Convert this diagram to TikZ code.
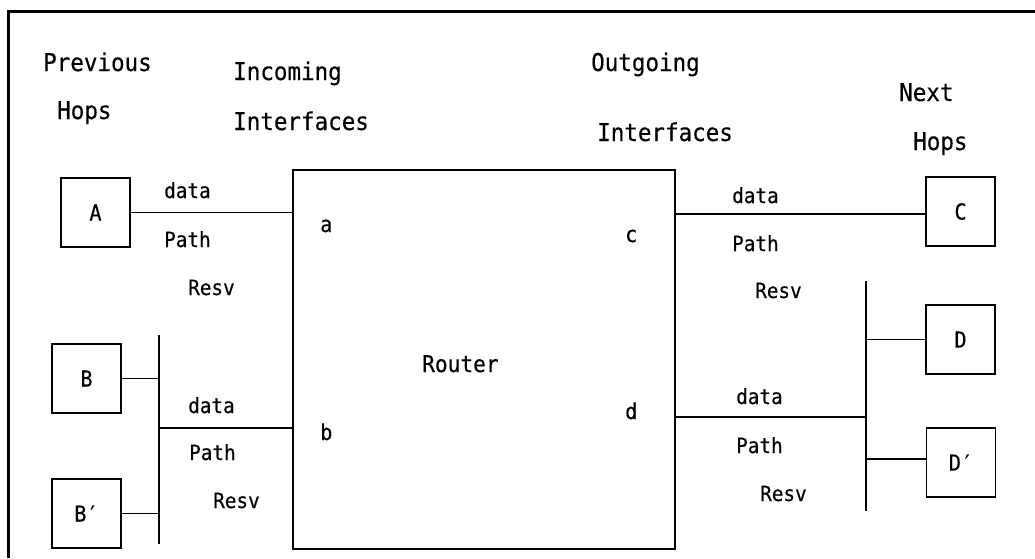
\documentclass[tikz,border=0pt]{standalone}
\usepackage{fontspec}
\setmainfont{DejaVu Sans Mono}[FakeBold=0.35,FakeStretch=0.92]
\begin{document}
\begin{tikzpicture}[x=1pt,y=-1pt,
  hdr/.style={anchor=base west,inner sep=0,font=\fontsize{24.5}{26}\selectfont},
  lbl/.style={anchor=base west,inner sep=0,font=\fontsize{21}{24}\selectfont},
  hop/.style={draw,line width=1.6pt,minimum width=69pt,minimum height=69pt,inner sep=0,font=\fontsize{22}{24}\selectfont},
  wire/.style={line width=1.6pt}]
\useasboundingbox (0,0) rectangle (1035,558);
\draw[line width=3pt] (8,558) -- (8,11) -- (1035,11);
% headers
\node[hdr] (h1) at (43,71) {Previous};
\node[hdr] (h2) at (57,119) {Hops};
\node[hdr] (h3) at (233,80) {Incoming};
\node[hdr] (h4) at (233,130) {Interfaces};
\node[hdr] (h5) at (591,71) {Outgoing};
\node[hdr] (h6) at (597,141) {Interfaces};
\node[hdr] (h7) at (899,101) {Next};
\node[hdr] (h8) at (913,150) {Hops};
% router
\node[draw,line width=1.6pt,minimum width=382pt,minimum height=379pt,inner sep=0] (R) at (484,359.5) {};
\node[lbl,font=\fontsize{23}{24}\selectfont] (rt) at (422,372) {Router};
\node[lbl,font=\fontsize{22}{24}\selectfont] (ia) at (320,232) {a};
\node[lbl,font=\fontsize{22}{24}\selectfont] (ib) at (320,440) {b};
\node[lbl,font=\fontsize{22}{24}\selectfont] (ic) at (625,242) {c};
\node[lbl,font=\fontsize{22}{24}\selectfont] (id) at (625,419) {d};
% hops
\node[hop] (A) at (95.5,212.5) {A};
\node[hop] (B) at (86.5,378.5) {B};
\node[hop] (Bp) at (86.5,513.5) {B′};
\node[hop] (C) at (960.5,211.5) {C};
\node[hop] (D) at (960.5,339.5) {D};
\node[hop] (Dp) at (961,462.5) {D′};
% buses
\coordinate (bl1) at (159,335);
\coordinate (bl2) at (159,544);
\coordinate (bj) at (159,428);
\coordinate (br1) at (866,281);
\coordinate (br2) at (866,511);
\coordinate (rj) at (866,417);
\draw[wire] (bl1) -- (bl2);
\draw[wire] (br1) -- (br2);
\draw[wire] (A.east) -- (A.east -| R.west);
\draw[wire] (B.east) -- (B.east -| bl1);
\draw[wire] (Bp.east) -- (Bp.east -| bl1);
\draw[wire] (bj) -- (bj -| R.west);
\draw[wire] ([yshift=-2.5pt]C.west) -- ([yshift=-2.5pt]C.west -| R.east);
\draw[wire] (D.west) -- (D.west -| br1);
\draw[wire] ([yshift=3.5pt]Dp.west) -- ([yshift=3.5pt]Dp.west -| br1);
\draw[wire] (rj) -- (rj -| R.east);
% message labels
\node[lbl] (d1) at (164,198) {data};
\node[lbl] (p1) at (164,247) {Path};
\node[lbl] (r1) at (188,295) {Resv};
\node[lbl] (d2) at (188,413) {data};
\node[lbl] (p2) at (189,460) {Path};
\node[lbl] (r2) at (213,508) {Resv};
\node[lbl] (d3) at (732,203) {data};
\node[lbl] (p3) at (732,251) {Path};
\node[lbl] (r3) at (755,298) {Resv};
\node[lbl] (d4) at (736,404) {data};
\node[lbl] (p4) at (736,453) {Path};
\node[lbl] (r4) at (760,501) {Resv};
\end{tikzpicture}
\end{document}
